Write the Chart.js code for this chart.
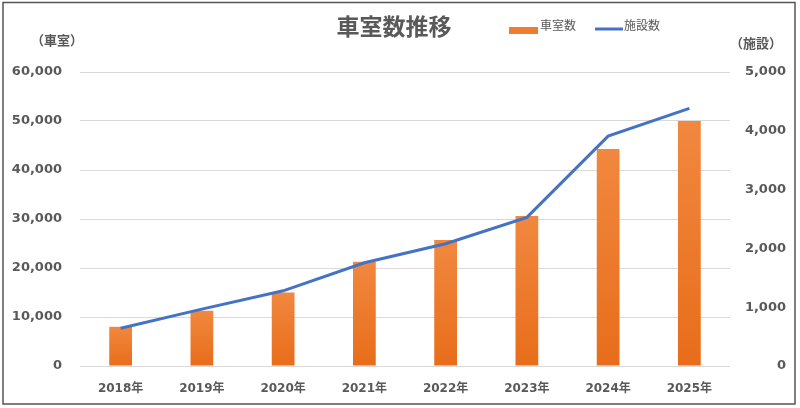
<!DOCTYPE html>
<html>
<head>
<meta charset="utf-8">
<script src="https://cdn.jsdelivr.net/npm/chart.js@4"></script>
<style>
  body { margin: 0; background: #fff; }
  #wrap { position: absolute; left: 0; top: 0; width: 800px; height: 408px; }
</style>
</head>
<body>
<div id="wrap"><canvas id="chart" width="800" height="408"></canvas></div>
<script>
// データ
const years = ['2018年', '2019年', '2020年', '2021年', '2022年', '2023年', '2024年', '2025年'];
const shashitsu = [8000, 11300, 15000, 21300, 25700, 30600, 44300, 50000];  // 車室数
const shisetsu = [643, 967, 1279, 1756, 2080, 2528, 3909, 4381];           // 施設数
const leftTicks = [0, 60000, 10000];   // min, max, step
const rightTicks = [0, 5000, 1000];

const TEXT = '#595959';
const JP = "'Noto Sans CJK JP', 'DejaVu Sans', sans-serif";
const NUM = "'DejaVu Sans', 'Noto Sans CJK JP', sans-serif";

// タイトル・凡例・軸見出し・枠線
const decor = {
    id: 'decor',
    afterDraw(chart) {
        const c = chart.ctx;
        c.save();
        c.strokeStyle = '#555';
        c.lineWidth = 1.5;
        c.strokeRect(3, 2.5, 792, 401.5);

        c.fillStyle = TEXT;
        c.textBaseline = 'middle';
        c.textAlign = 'center';
        c.font = 'bold 23px ' + JP;
        c.fillText('車室数推移', 394, 26);

        c.font = 'bold 13px ' + JP;
        c.fillText('（車室）', 57, 40);
        c.fillText('（施設）', 756, 43);

        // 凡例
        c.fillStyle = '#ED7D31';
        c.fillRect(509, 27, 29, 7);
        c.strokeStyle = '#4472C4';
        c.lineWidth = 3;
        c.beginPath();
        c.moveTo(595, 29);
        c.lineTo(623, 29);
        c.stroke();
        c.fillStyle = TEXT;
        c.textAlign = 'left';
        c.font = '12px ' + JP;
        c.fillText('車室数', 540, 25);
        c.fillText('施設数', 624, 25);
        c.restore();
    }
};

function barGradient(context) {
    const chart = context.chart;
    if (!chart.chartArea) return '#ED7D31';
    const y = chart.scales.y;
    const top = y.getPixelForValue(context.raw);
    const bottom = y.getPixelForValue(0);
    const g = chart.ctx.createLinearGradient(0, top, 0, bottom);
    g.addColorStop(0, '#F1883F');
    g.addColorStop(1, '#E86D1A');
    return g;
}

new Chart(document.getElementById('chart'), {
    type: 'bar',
    data: {
        labels: years,
        datasets: [{
            type: 'line',
            label: '施設数',
            data: shisetsu,
            yAxisID: 'y1',
            borderColor: '#4472C4',
            borderWidth: 3,
            pointRadius: 0,
            tension: 0,
            order: 0
        }, {
            label: '車室数',
            data: shashitsu,
            yAxisID: 'y',
            backgroundColor: barGradient,
            barPercentage: 0.28,
            categoryPercentage: 1,
            order: 1
        }]
    },
    options: {
        responsive: false,
        animation: false,
        devicePixelRatio: 1,
        layout: { padding: { top: 72, left: 0, right: 14, bottom: 0 } },
        plugins: {
            legend: { display: false },
            title: { display: false },
            tooltip: { enabled: false }
        },
        scales: {
            x: {
                grid: { display: false },
                border: { display: false },
                ticks: {
                    color: TEXT,
                    padding: 8,
                    font: { family: NUM, size: 12, weight: 'bold' }
                },
                afterFit(scale) { scale.height = 42; }
            },
            y: {
                position: 'left',
                min: leftTicks[0],
                max: leftTicks[1],
                grid: { color: '#D9D9D9', lineWidth: 1, drawTicks: false },
                border: { display: false },
                ticks: {
                    stepSize: leftTicks[2],
                    color: TEXT,
                    padding: 18,
                    font: { family: NUM, size: 13, weight: 'bold' },
                    callback: v => v.toLocaleString('en-US')
                },
                afterFit(scale) { scale.width = 80; }
            },
            y1: {
                position: 'right',
                min: rightTicks[0],
                max: rightTicks[1],
                grid: { display: false, drawTicks: false },
                border: { display: false },
                ticks: {
                    stepSize: rightTicks[2],
                    color: TEXT,
                    padding: 13,
                    crossAlign: 'far',
                    font: { family: NUM, size: 13, weight: 'bold' },
                    callback: v => v.toLocaleString('en-US')
                },
                afterFit(scale) { scale.width = 56; }
            }
        }
    },
    plugins: [decor]
});
</script>
</body>
</html>
